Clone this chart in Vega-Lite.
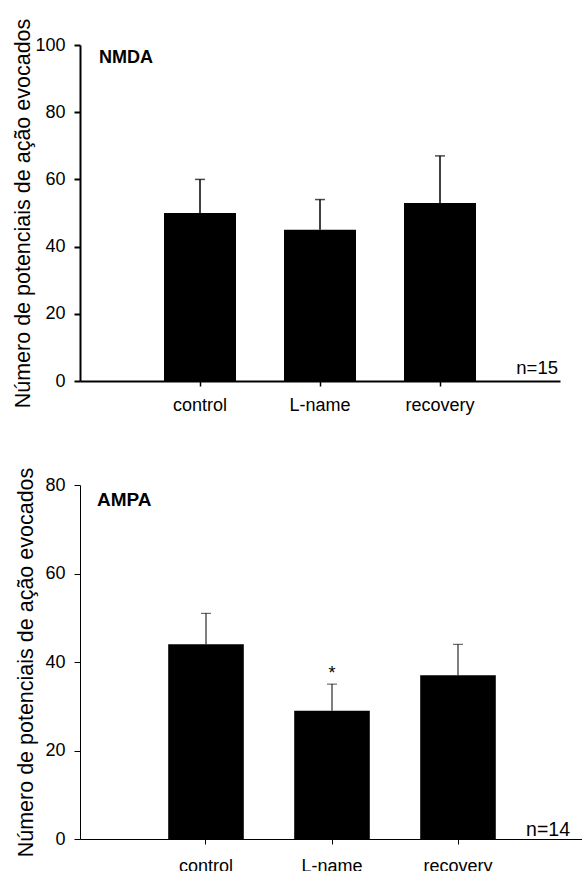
{
  "$schema": "https://vega.github.io/schema/vega-lite/v6.json",
  "padding": {"top": 18, "left": 12, "right": 0, "bottom": 0},
  "spacing": 53,
  "datasets": {
    "nmda": [
      {"cat": "control", "mean": 50, "hi": 60},
      {"cat": "L-name", "mean": 45, "hi": 54},
      {"cat": "recovery", "mean": 53, "hi": 67}
    ],
    "ampa": [
      {"cat": "control", "mean": 44, "hi": 51, "star": ""},
      {"cat": "L-name", "mean": 29, "hi": 35, "star": "*"},
      {"cat": "recovery", "mean": 37, "hi": 44, "star": ""}
    ]
  },
  "config": {
    "font": "Liberation Sans",
    "view": {"stroke": null},
    "axis": {
      "grid": false,
      "domainColor": "black",
      "tickColor": "black",
      "labelColor": "black",
      "titleColor": "black",
      "labelFont": "Liberation Sans",
      "titleFont": "Liberation Sans",
      "labelFontSize": 18,
      "titleFontSize": 21.5,
      "titleFontWeight": "normal"
    }
  },
  "vconcat": [
    {
      "width": 480,
      "height": 336,
      "data": {"name": "nmda"},
      "encoding": {
        "x": {
          "field": "cat", "type": "nominal", "sort": null,
          "scale": {"paddingInner": 0.4, "paddingOuter": 0.7},
          "axis": {"title": null, "labelAngle": 0, "tickSize": 5, "labelPadding": 10, "domainWidth": 2, "tickWidth": 1.5}
        }
      },
      "layer": [
        {
          "mark": {"type": "bar", "color": "black"},
          "encoding": {
            "y": {
              "field": "mean", "type": "quantitative",
              "scale": {"domain": [0, 100]},
              "axis": {"title": "Número de potenciais de ação evocados", "values": [0, 20, 40, 60, 80, 100], "tickSize": 6, "labelPadding": 9, "titlePadding": 0, "domainWidth": 2, "tickWidth": 2}
            }
          }
        },
        {
          "mark": {"type": "rule", "color": "black", "strokeWidth": 1.5},
          "encoding": {
            "y": {"field": "mean", "type": "quantitative"},
            "y2": {"field": "hi"}
          }
        },
        {
          "mark": {"type": "tick", "color": "black", "size": 10, "thickness": 1.5, "orient": "horizontal"},
          "encoding": {
            "y": {"field": "hi", "type": "quantitative"}
          }
        },
        {
          "data": {"values": [{"label": "NMDA"}]},
          "mark": {"type": "text", "fontWeight": "bold", "fontSize": 18, "align": "left", "baseline": "alphabetic", "dx": 19, "dy": 18, "color": "black"},
          "encoding": {"text": {"field": "label"}, "y": {"datum": 100}, "x": {"value": 0}}
        },
        {
          "data": {"values": [{"label": "n=15"}]},
          "mark": {"type": "text", "fontSize": 18.5, "align": "right", "baseline": "alphabetic", "dx": -2, "dy": -7, "color": "black"},
          "encoding": {"text": {"field": "label"}, "y": {"datum": 0}, "x": {"value": "width"}}
        }
      ]
    },
    {
      "width": 504,
      "height": 354,
      "data": {"name": "ampa"},
      "encoding": {
        "x": {
          "field": "cat", "type": "nominal", "sort": null,
          "scale": {"paddingInner": 0.4, "paddingOuter": 0.7},
          "axis": {"title": null, "labelAngle": 0, "tickSize": 5, "labelPadding": 13, "domainWidth": 1.2, "tickWidth": 1}
        }
      },
      "layer": [
        {
          "mark": {"type": "bar", "color": "black"},
          "encoding": {
            "y": {
              "field": "mean", "type": "quantitative",
              "scale": {"domain": [0, 80]},
              "axis": {"title": "Número de potenciais de ação evocados", "values": [0, 20, 40, 60, 80], "tickSize": 6, "labelPadding": 9, "titlePadding": 7, "domainWidth": 1, "tickWidth": 1}
            }
          }
        },
        {
          "mark": {"type": "rule", "color": "black", "strokeWidth": 1},
          "encoding": {
            "y": {"field": "mean", "type": "quantitative"},
            "y2": {"field": "hi"}
          }
        },
        {
          "mark": {"type": "tick", "color": "black", "size": 10, "thickness": 1, "orient": "horizontal"},
          "encoding": {
            "y": {"field": "hi", "type": "quantitative"}
          }
        },
        {
          "mark": {"type": "text", "fontSize": 18, "align": "center", "baseline": "alphabetic", "dy": -5, "color": "black"},
          "encoding": {
            "text": {"field": "star"},
            "y": {"field": "hi", "type": "quantitative"}
          }
        },
        {
          "data": {"values": [{"label": "AMPA"}]},
          "mark": {"type": "text", "fontWeight": "bold", "fontSize": 19, "align": "left", "baseline": "alphabetic", "dx": 17, "dy": 21, "color": "black"},
          "encoding": {"text": {"field": "label"}, "y": {"datum": 80}, "x": {"value": 0}}
        },
        {
          "data": {"values": [{"label": "n=14"}]},
          "mark": {"type": "text", "fontSize": 19.5, "align": "right", "baseline": "alphabetic", "dx": -14, "dy": -3, "color": "black"},
          "encoding": {"text": {"field": "label"}, "y": {"datum": 0}, "x": {"value": "width"}}
        }
      ]
    }
  ]
}
